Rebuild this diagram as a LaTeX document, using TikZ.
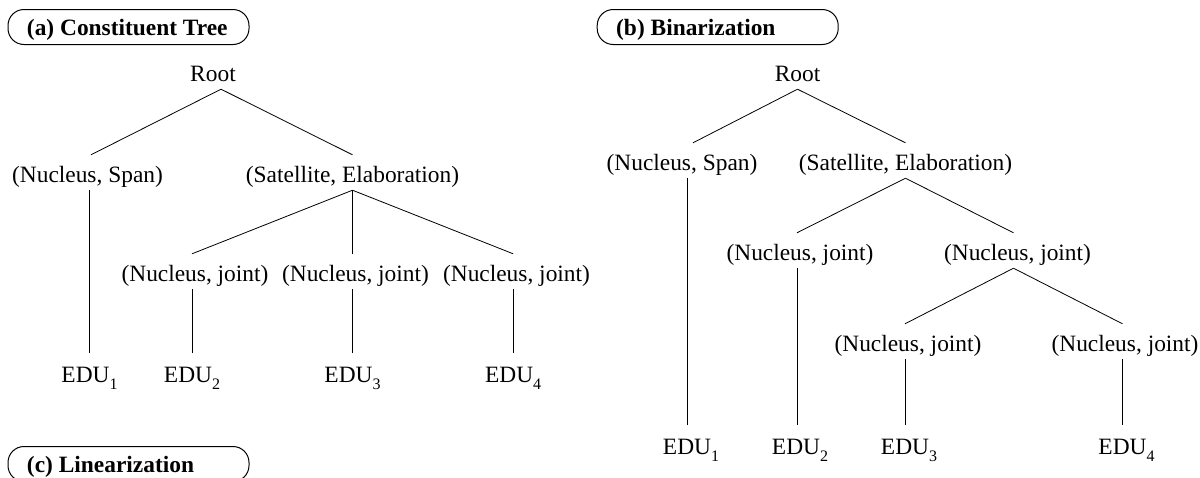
\documentclass[tikz,border=0pt]{standalone}
\usepackage{fontspec}
\setmainfont{Liberation Serif}
\newcommand{\sbs}[1]{\raisebox{-0.3em}{\fontsize{16}{16}\selectfont #1}}
\begin{document}
\begin{tikzpicture}[x=1pt,y=-1pt,
  lab/.style={font=\fontsize{23.4}{28}\selectfont, inner sep=0pt, text height=27pt, text depth=8pt, anchor=base},
  edu/.style={lab, text height=29pt},
  edge/.style={line width=0.8pt, draw=black},
  titlebox/.style={draw, line width=1pt, rounded corners=16pt, anchor=north west,
    font=\fontsize{23.4}{28}\selectfont\bfseries,
    inner xsep=19pt, inner ysep=9pt, text height=17pt, text depth=0pt}]
\useasboundingbox (0,0) rectangle (1200,477);

% titles
\node[titlebox] (tA) at (7.5,9) {\makebox[203pt][l]{(a) Constituent Tree}};
\node[titlebox] (tB) at (596.7,9) {\makebox[203pt][l]{(b) Binarization}};
\node[titlebox] (tC) at (7.5,446) {\makebox[203pt][l]{(c) Linearization}};

% (a) constituent tree
\node[lab] (rootA) at (213,81) {Root};
\node[lab] (nsA) at (87.5,182) {(Nucleus, Span)};
\node[lab] (seA) at (352.5,182) {(Satellite, Elaboration)};
\node[lab] (j1A) at (195,281) {(Nucleus, joint)};
\node[lab] (j2A) at (355.5,281) {(Nucleus, joint)};
\node[lab] (j3A) at (516.5,281) {(Nucleus, joint)};
\node[edu] (e1A) at (89.5,382) {EDU\sbs{1}};
\node[edu] (e2A) at (192,382) {EDU\sbs{2}};
\node[edu] (e3A) at (352.5,382) {EDU\sbs{3}};
\node[edu] (e4A) at (513.2,382) {EDU\sbs{4}};

\draw[edge] ([xshift=8pt]rootA.south) -- ([xshift=3.5pt]nsA.north);
\draw[edge] ([xshift=8pt]rootA.south) -- (seA.north);
\draw[edge] ([xshift=2pt]nsA.south) -- (e1A.north);
\draw[edge] (seA.south) -- ([xshift=-3pt]j1A.north);
\draw[edge] (seA.south) -- ([xshift=-3pt]j2A.north);
\draw[edge] (seA.south) -- ([xshift=-3.3pt]j3A.north);
\draw[edge] ([xshift=-3pt]j1A.south) -- (e2A.north);
\draw[edge] ([xshift=-3pt]j2A.south) -- (e3A.north);
\draw[edge] ([xshift=-3.3pt]j3A.south) -- (e4A.north);

% (b) binarization
\node[lab] (rootB) at (797.5,81) {Root};
\node[lab] (nsB) at (682,170) {(Nucleus, Span)};
\node[lab] (seB) at (905.5,170) {(Satellite, Elaboration)};
\node[lab] (jLB) at (800,260) {(Nucleus, joint)};
\node[lab] (jRB) at (1017.5,260) {(Nucleus, joint)};
\node[lab] (jRLB) at (908,351) {(Nucleus, joint)};
\node[lab] (jRRB) at (1125,351) {(Nucleus, joint)};
\node[edu] (e1B) at (687,454) {EDU\rlap{\sbs{1}}};
\node[edu] (e2B) at (796,454) {EDU\rlap{\sbs{2}}};
\node[edu] (e3B) at (905,454) {EDU\rlap{\sbs{3}}};
\node[edu] (e4B) at (1122.5,454) {EDU\rlap{\sbs{4}}};

\draw[edge] (rootB.south) -- ([xshift=11pt]nsB.north);
\draw[edge] (rootB.south) -- (seB.north);
\draw[edge] ([xshift=5pt]nsB.south) -- (e1B.north);
\draw[edge] (seB.south) -- ([xshift=-3pt]jLB.north);
\draw[edge] (seB.south) -- ([xshift=-4pt]jRB.north);
\draw[edge] ([xshift=-3pt]jLB.south) -- ([xshift=1pt]e2B.north);
\draw[edge] ([xshift=-4pt]jRB.south) -- ([xshift=-3pt]jRLB.north);
\draw[edge] ([xshift=-4pt]jRB.south) -- ([xshift=-2.5pt]jRRB.north);
\draw[edge] ([xshift=-3pt]jRLB.south) -- (e3B.north);
\draw[edge] ([xshift=-2.5pt]jRRB.south) -- (e4B.north);
\end{tikzpicture}
\end{document}
